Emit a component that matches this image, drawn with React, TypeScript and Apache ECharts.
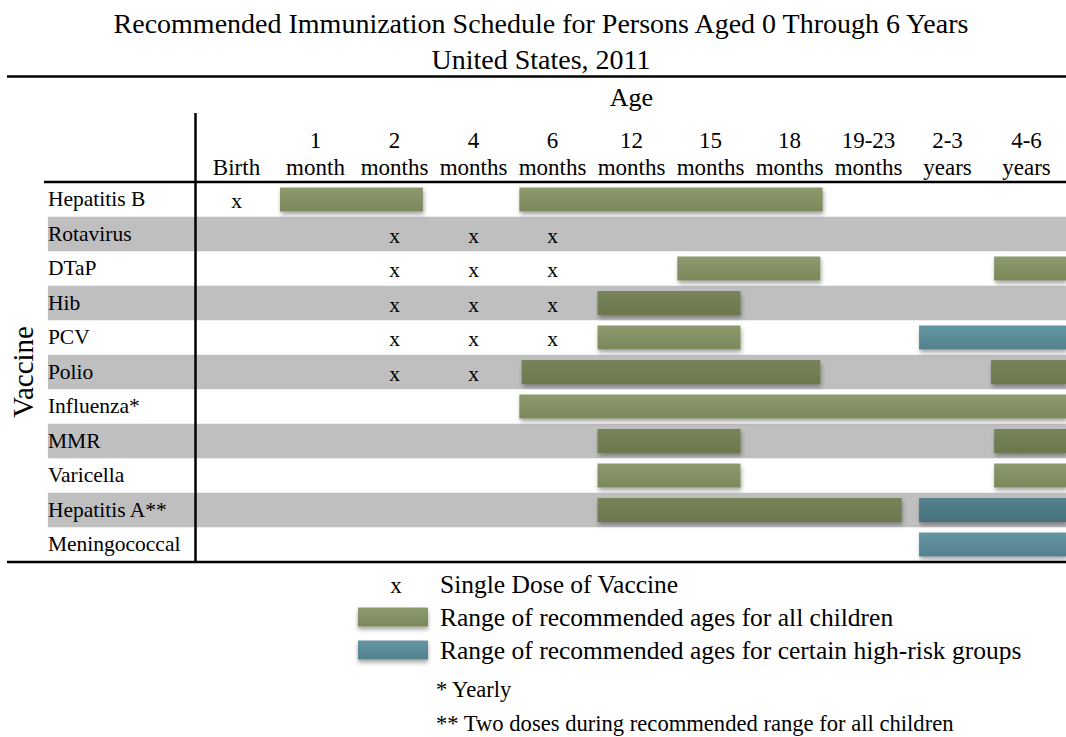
import React, { useEffect, useRef } from "react";
import * as echarts from "echarts";

const FONT = '"Liberation Serif", "Times New Roman", serif';

const titleLines = [
  "Recommended Immunization Schedule for Persons Aged 0 Through 6 Years",
  "United States, 2011",
];

const vaccines = [
  "Hepatitis B",
  "Rotavirus",
  "DTaP",
  "Hib",
  "PCV",
  "Polio",
  "Influenza*",
  "MMR",
  "Varicella",
  "Hepatitis A**",
  "Meningococcal",
];

const ageColumns = [
  "Birth",
  "1 month",
  "2 months",
  "4 months",
  "6 months",
  "12 months",
  "15 months",
  "18 months",
  "19-23 months",
  "2-3 years",
  "4-6 years",
];

// single doses: [vaccine, age column]
const singleDoses: [string, string][] = [
  ["Hepatitis B", "Birth"],
  ["Rotavirus", "2 months"],
  ["Rotavirus", "4 months"],
  ["Rotavirus", "6 months"],
  ["DTaP", "2 months"],
  ["DTaP", "4 months"],
  ["DTaP", "6 months"],
  ["Hib", "2 months"],
  ["Hib", "4 months"],
  ["Hib", "6 months"],
  ["PCV", "2 months"],
  ["PCV", "4 months"],
  ["PCV", "6 months"],
  ["Polio", "2 months"],
  ["Polio", "4 months"],
];

// ranges in column units (0 = start of "Birth" column, 11 = end of "4-6 years")
const allChildrenRanges: [string, number, number][] = [
  ["Hepatitis B", 1.05, 2.86],
  ["Hepatitis B", 4.08, 7.92],
  ["DTaP", 6.08, 7.89],
  ["DTaP", 10.09, 11],
  ["Hib", 5.07, 6.88],
  ["PCV", 5.07, 6.88],
  ["Polio", 4.11, 7.89],
  ["Polio", 10.05, 11],
  ["Influenza*", 4.08, 11],
  ["MMR", 5.07, 6.88],
  ["MMR", 10.09, 11],
  ["Varicella", 5.07, 6.88],
  ["Varicella", 10.09, 11],
  ["Hepatitis A**", 5.07, 8.92],
];

const highRiskRanges: [string, number, number][] = [
  ["PCV", 9.14, 11],
  ["Hepatitis A**", 9.14, 11],
  ["Meningococcal", 9.14, 11],
];

const legendNames = [
  "Single Dose of Vaccine",
  "Range of recommended ages for all children",
  "Range of recommended ages for certain high-risk groups",
];

const footnotes = [
  "* Yearly",
  "** Two doses during recommended range for all children",
];

const grad = (top: string, bottom: string) => ({
  type: "linear",
  x: 0,
  y: 0,
  x2: 0,
  y2: 1,
  colorStops: [
    { offset: 0, color: top },
    { offset: 1, color: bottom },
  ],
});

const GREEN_LIGHT = grad("#8d9a6e", "#7b885a");
const GREEN_DARK = grad("#77845a", "#6b774c");
const TEAL_LIGHT = grad("#6397a2", "#53818d");
const TEAL_DARK = grad("#54818d", "#46707b");

const makeRangeRender = (light: any, dark: any) => (params: any, api: any) => {
  const row = api.value(0);
  const start = api.value(1);
  const end = api.value(2);
  const p0 = api.coord([start, row]);
  const p1 = api.coord([end, row]);
  const h = api.size([0, 1])[1] * 0.7;
  return {
    type: "rect",
    shape: { x: p0[0], y: p0[1] - h / 2, width: p1[0] - p0[0], height: h },
    style: {
      fill: row % 2 === 1 ? dark : light,
      shadowBlur: 4,
      shadowOffsetX: 1,
      shadowOffsetY: 3,
      shadowColor: "rgba(0,0,0,0.35)",
    },
  };
};

export default function App() {
  const ref = useRef<HTMLDivElement>(null);

  useEffect(() => {
    if (!ref.current) return;
    const chart = echarts.init(ref.current, undefined, { renderer: "svg" });

    const headerLabels = ageColumns.map((a) =>
      a === "Birth" ? "Birth" : a.replace(" ", "\n")
    );

    const option: any = {
      animation: false,
      backgroundColor: "#ffffff",
      textStyle: { fontFamily: FONT, color: "#000" },
      title: {
        text: titleLines.join("\n"),
        left: 541,
        textAlign: "center",
        top: 5.5,
        padding: 0,
        textStyle: {
          fontFamily: FONT,
          fontSize: 28,
          lineHeight: 36,
          fontWeight: "normal",
          color: "#000",
        },
      },
      grid: [
        { left: 44, right: 0, top: 182.2, height: 379.5 },
        { left: 197, width: 874.5, top: 182.2, height: 379.5 },
      ],
      xAxis: [
        { type: "value", gridIndex: 0, min: 0, max: 1, show: false },
        {
          type: "value",
          gridIndex: 1,
          min: 0,
          max: 11,
          show: false,
        },
        {
          type: "category",
          gridIndex: 1,
          position: "top",
          data: headerLabels,
          boundaryGap: true,
          axisLine: { show: false },
          axisTick: { show: false },
          splitLine: { show: false },
          axisLabel: {
            interval: 0,
            margin: 1,
            fontFamily: FONT,
            fontSize: 23,
            lineHeight: 27,
            color: "#000",
            align: "center",
          },
          name: "Age",
          nameLocation: "middle",
          nameGap: 72,
          nameTextStyle: { fontFamily: FONT, fontSize: 26, color: "#000" },
        },
      ],
      yAxis: [
        {
          type: "category",
          gridIndex: 0,
          data: vaccines,
          inverse: true,
          axisLine: { show: false },
          axisTick: { show: false },
          splitLine: { show: false },
          splitArea: {
            show: true,
            areaStyle: { color: ["rgba(255,255,255,0)", "#bfbfbf"] },
          },
          axisLabel: {
            inside: true,
            margin: 0,
            fontFamily: FONT,
            fontSize: 21.5,
            color: "#000",
            verticalAlign: "middle",
            padding: [6, 0, 0, 0],
          },
          name: "Vaccine",
          nameLocation: "middle",
          nameRotate: 90,
          nameGap: -5,
          nameTextStyle: { fontFamily: FONT, fontSize: 29, color: "#000" },
        },
        {
          type: "category",
          gridIndex: 1,
          data: vaccines,
          inverse: true,
          show: false,
        },
      ],
      legend: {
        orient: "vertical",
        left: 358,
        top: 571,
        padding: 0,
        itemWidth: 70,
        itemHeight: 19,
        itemGap: 7,
        selectedMode: false,
        textStyle: {
          fontFamily: FONT,
          fontSize: 25.5,
          lineHeight: 26,
          color: "#000",
          padding: [0, 0, 0, 7],
        },
        data: [
          {
            name: legendNames[0],
            icon: "rect",
            itemStyle: { color: "rgba(0,0,0,0)", shadowBlur: 0, shadowColor: "rgba(0,0,0,0)" },
          },
          {
            name: legendNames[1],
            icon: "rect",
            itemStyle: {
              color: GREEN_LIGHT,
              shadowBlur: 4,
              shadowOffsetY: 3,
              shadowColor: "rgba(0,0,0,0.35)",
            },
          },
          {
            name: legendNames[2],
            icon: "rect",
            itemStyle: {
              color: TEAL_LIGHT,
              shadowBlur: 4,
              shadowOffsetY: 3,
              shadowColor: "rgba(0,0,0,0.35)",
            },
          },
        ],
      },
      series: [
        {
          name: legendNames[1],
          type: "custom",
          xAxisIndex: 1,
          yAxisIndex: 1,
          itemStyle: { color: GREEN_LIGHT },
          encode: { x: [1, 2], y: 0 },
          renderItem: makeRangeRender(GREEN_LIGHT, GREEN_DARK),
          data: allChildrenRanges,
          z: 3,
        },
        {
          name: legendNames[2],
          type: "custom",
          xAxisIndex: 1,
          yAxisIndex: 1,
          itemStyle: { color: TEAL_LIGHT },
          encode: { x: [1, 2], y: 0 },
          renderItem: makeRangeRender(TEAL_LIGHT, TEAL_DARK),
          data: highRiskRanges,
          z: 3,
        },
        {
          name: legendNames[0],
          type: "custom",
          xAxisIndex: 1,
          yAxisIndex: 1,
          itemStyle: { color: "#000" },
          encode: { x: 1, y: 0 },
          renderItem: (params: any, api: any) => {
            const p = api.coord([api.value(1), api.value(0)]);
            return {
              type: "text",
              x: p[0],
              y: p[1] + 2,
              style: {
                text: "x",
                fill: "#000",
                fontFamily: FONT,
                fontSize: 21.5,
                align: "center",
                verticalAlign: "middle",
              },
            };
          },
          data: singleDoses.map(([v, a]) => [v, ageColumns.indexOf(a) + 0.5]),
          z: 4,
        },
      ],
      graphic: [
        {
          type: "line",
          z: 100,
          shape: { x1: 7, y1: 76.5, x2: 1066, y2: 76.5 },
          style: { stroke: "#000", lineWidth: 2.7 },
        },
        {
          type: "line",
          z: 100,
          shape: { x1: 44, y1: 182, x2: 1066, y2: 182 },
          style: { stroke: "#000", lineWidth: 2.5 },
        },
        {
          type: "line",
          z: 100,
          shape: { x1: 7, y1: 562, x2: 1066, y2: 562 },
          style: { stroke: "#000", lineWidth: 2.7 },
        },
        {
          type: "line",
          z: 100,
          shape: { x1: 195.5, y1: 113, x2: 195.5, y2: 562 },
          style: { stroke: "#000", lineWidth: 2.5 },
        },
        {
          type: "text",
          z: 100,
          x: 396,
          y: 585,
          style: {
            text: "x",
            fill: "#000",
            fontFamily: FONT,
            fontSize: 23,
            align: "center",
            verticalAlign: "middle",
          },
        },
        {
          type: "text",
          z: 100,
          x: 436,
          y: 689,
          style: {
            text: footnotes[0],
            fill: "#000",
            fontFamily: FONT,
            fontSize: 22.6,
            align: "left",
            verticalAlign: "middle",
          },
        },
        {
          type: "text",
          z: 100,
          x: 436,
          y: 723,
          style: {
            text: footnotes[1],
            fill: "#000",
            fontFamily: FONT,
            fontSize: 22.6,
            align: "left",
            verticalAlign: "middle",
          },
        },
      ],
    };

    chart.setOption(option);
    return () => chart.dispose();
  }, []);

  return (
    <div
      ref={ref}
      style={{ position: "absolute", left: 0, top: 0, width: 1066, height: 737 }}
    />
  );
}
